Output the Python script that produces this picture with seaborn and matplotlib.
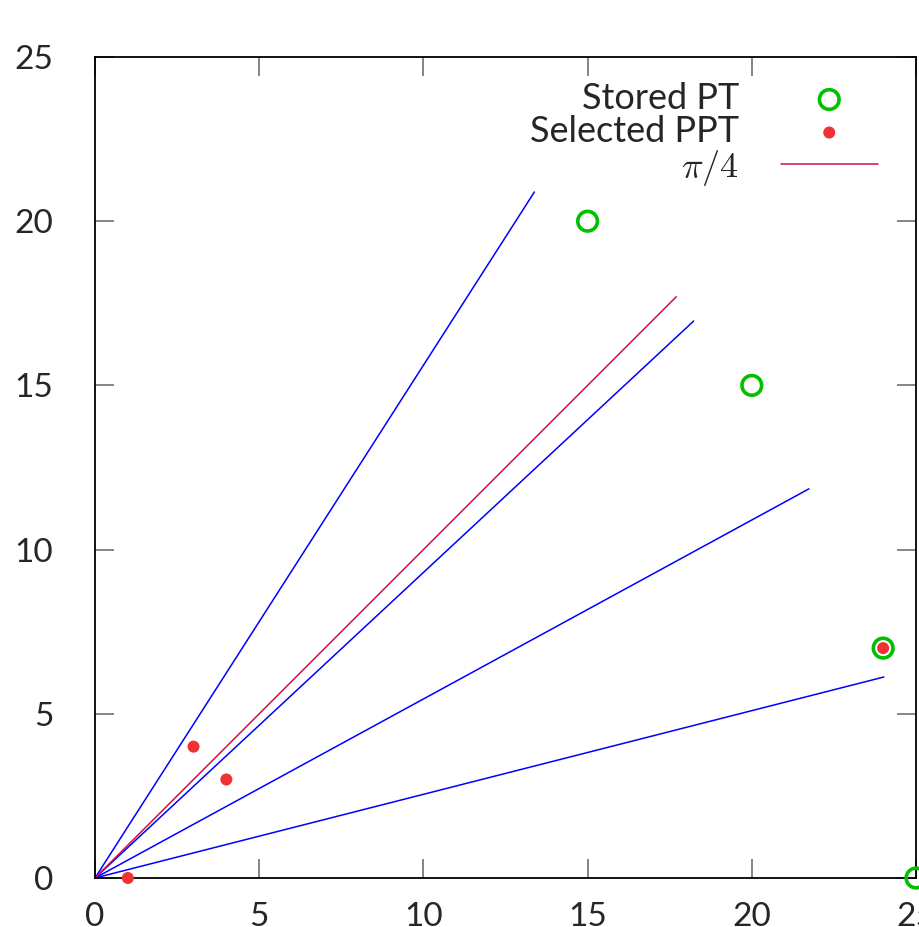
import matplotlib
matplotlib.use("Agg")
import matplotlib.pyplot as plt
import seaborn as sns
import pandas as pd

# Data
stored_x = [15, 20, 24, 25]
stored_y = [20, 15, 7, 0]
selected_x = [1, 3, 4, 24]
selected_y = [0, 4, 3, 7]
ray_end_x = [13.38, 18.23, 21.74, 24.02]
ray_end_y = [20.89, 16.96, 11.85, 6.12]
diag_end = [17.7, 17.7]
xticks = [0, 5, 10, 15, 20, 25]
yticks = [0, 5, 10, 15, 20, 25]

sns.set_theme(style="white")
plt.rcParams['font.family'] = ['Lato', 'DejaVu Sans']
plt.rcParams['mathtext.fontset'] = 'cm'

fig = plt.figure(figsize=(9.2, 9.27), dpi=100)
ax = fig.add_axes([95/920, 1-878/927, (916-95)/920, (878-57)/927])

for ex, ey in zip(ray_end_x, ray_end_y):
    sns.lineplot(x=[0, ex], y=[0, ey], sort=False, color='#0000ff', lw=1.1, ax=ax, legend=False)
sns.lineplot(x=[0, diag_end[0]], y=[0, diag_end[1]], sort=False, color='#d0104a', lw=1.1,
             ax=ax, label=r'$\pi/4$')

sns.scatterplot(x=stored_x, y=stored_y, ax=ax, marker='o', s=200, facecolor='none',
                edgecolor='#00c000', linewidth=2.6, label='Stored PT', clip_on=False, zorder=5)
sns.scatterplot(x=selected_x, y=selected_y, ax=ax, marker='o', s=75, color='#f03232',
                edgecolor='none', label='Selected PPT', clip_on=False, zorder=6)

ax.set_xlim(0, 25)
ax.set_ylim(0, 25)
ax.set_xticks(xticks)
ax.set_yticks(yticks)
ax.set_xticklabels([str(t) for t in xticks])
ax.set_yticklabels([str(t) for t in yticks])
ax.tick_params(axis='both', direction='in', length=14, width=1.2, color='#707070',
               labelsize=24, top=True, right=True, bottom=True, left=True)
ax.tick_params(axis='x', pad=17)
ax.tick_params(axis='y', pad=30)
for s in ax.spines.values():
    s.set_color('black')
    s.set_linewidth(1.3)

h, l = ax.get_legend_handles_labels()
order = [l.index('Stored PT'), l.index('Selected PPT'), l.index(r'$\pi/4$')]
leg = ax.legend([h[i] for i in order], [l[i] for i in order], loc='upper right',
                markerfirst=False, frameon=False, fontsize=26, handlelength=2.7,
                labelspacing=0.0, handletextpad=1.15, borderaxespad=0.0, borderpad=0.0,
                bbox_to_anchor=((878-95)/821, (878-82)/821))
for t in leg.get_texts():
    t.set_ha('right')

fig.savefig('out.png', dpi=100)
